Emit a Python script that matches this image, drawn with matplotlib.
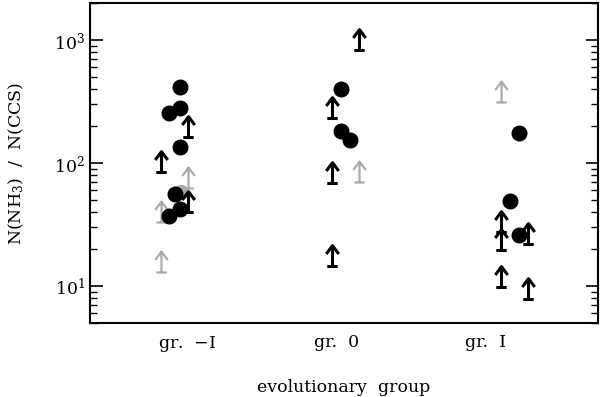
import numpy as np
import matplotlib.pyplot as plt
from matplotlib.path import Path

plt.rcParams['font.family'] = 'DejaVu Serif'
plt.rcParams['mathtext.fontset'] = 'dejavuserif'

# group positions and labels
groups = [1, 2, 3]
group_labels = ['gr.  $-$I', 'gr.  0', 'gr.  I']

# detections (filled circles): x position and ratio
det_x = [0.95, 0.88, 0.95, 0.95, 0.92, 0.95, 0.88,
         2.03, 2.03, 2.09,
         3.22, 3.16, 3.22]
det_y = [415, 254, 279, 135, 56, 42, 37,
         397, 181, 155,
         174, 49.5, 25.8]

# gray detection
gdet_x = [0.96]
gdet_y = [58]

# lower limits (black arrows)
lim_x = [1.007, 0.825, 1.007,
         2.15, 1.97, 1.97, 1.97,
         3.10, 3.10, 3.28, 3.10, 3.28]
lim_y = [162, 85, 40,
         834, 234, 68.5, 14.7,
         27.5, 19.8, 22.1, 9.8, 7.9]

# lower limits (gray arrows)
glim_x = [1.007, 0.825, 0.825, 2.15, 3.10]
glim_y = [63, 33.5, 13, 70.6, 313]

# arrow marker: bar at the value, arrow pointing up
verts = [(-0.25, 0), (0.25, 0), (0, 0), (0, 1),
         (-0.3, 0.6), (0, 1), (0.3, 0.6)]
codes = [Path.MOVETO, Path.LINETO, Path.MOVETO, Path.LINETO,
         Path.MOVETO, Path.LINETO, Path.LINETO]
arrow = Path(verts, codes)

fig = plt.figure(figsize=(6, 3.97), dpi=100)
ax = fig.add_axes([0.15, 0.186, 0.8467, 0.8064])

ax.plot(glim_x, glim_y, ls='none', marker=arrow, ms=30, mfc='none',
        mec='#aaaaaa', mew=1.6)
ax.plot(gdet_x, gdet_y, ls='none', marker='o', ms=10, color='#aaaaaa')
ax.plot(lim_x, lim_y, ls='none', marker=arrow, ms=30, mfc='none',
        mec='black', mew=2.2)
ax.plot(det_x, det_y, ls='none', marker='o', ms=10.5, color='black')

ax.set_yscale('log')
ax.set_ylim(5, 2000)
ax.set_xlim(0.35, 3.75)
ax.set_xticks(groups)
ax.set_xticklabels(group_labels, fontsize=12.5)
ax.tick_params(axis='x', length=0, pad=8)
ax.tick_params(axis='y', which='both', direction='in', left=True, right=True,
               labelsize=12.5)
ax.tick_params(axis='y', which='major', length=9, width=1.2)
ax.tick_params(axis='y', which='minor', length=5, width=1)
for s in ax.spines.values():
    s.set_linewidth(1.5)

ax.set_xlabel('evolutionary  group', fontsize=12.5, labelpad=18)
ax.set_ylabel('N(NH$_3$)  /  N(CCS)', fontsize=12.5, labelpad=20)

fig.savefig('out.png', dpi=100)
